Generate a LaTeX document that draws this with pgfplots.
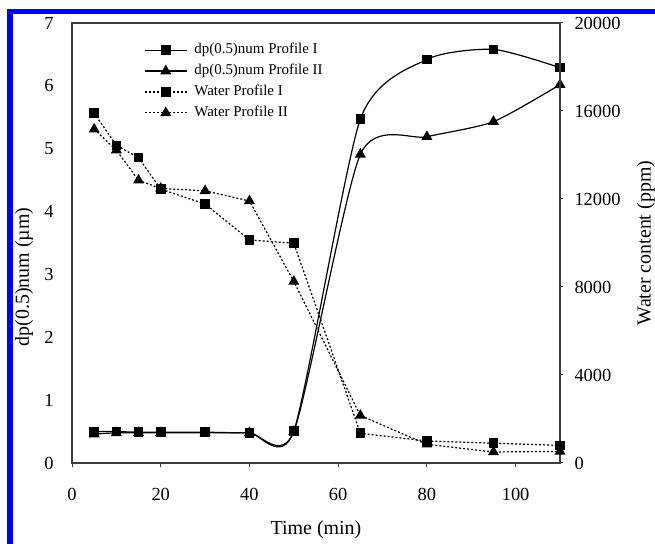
\documentclass[border=0pt]{standalone}
\usepackage{fontspec}
\setmainfont{Liberation Serif}
\usepackage{pgfplots}
\pgfplotsset{compat=1.18}
\definecolor{axgray}{RGB}{60,60,60}
\definecolor{frameblue}{RGB}{0,0,255}

\pgfplotstableread{
t dpI dpII
5 0.50 0.46
10 0.50 0.48
15 0.49 0.48
20 0.49 0.48
30 0.49 0.48
40 0.48 0.48
50 0.51 0.50
65 5.47 4.91
80 6.42 5.19
95 6.58 5.43
110 6.29 6.02
}\dpdata
\pgfplotstableread{
t wI wII
5 15900 15170
10 14440 14220
15 13880 12850
20 12450 12480
30 11770 12370
40 10140 11910
50 9990 8250
65 1350 2160
80 1000 850
95 900 500
110 800 530
}\wdata

\pgfplotsset{
  common/.style={
    at={(72bp,81bp)}, anchor=south west,
    scale only axis, width=488bp, height=440bp,
    xmin=0, xmax=110,
    axis line style={draw=axgray, line width=1.3bp},
    tick style={draw=axgray, line width=1bp},
    tick align=outside,
    scaled ticks=false,
    /pgf/number format/assume math mode=true,
    /pgf/number format/1000 sep={},
    tick label style={font=\fontsize{18.5}{20}\selectfont},
  },
  dpI/.style={black, line width=1.2bp, smooth, tension=0.4, mark=square*, mark size=4.2bp, mark options={solid}},
  dpII/.style={black, line width=1.2bp, smooth, tension=0.4, mark=triangle*, mark size=5.2bp, mark options={solid}},
  wI/.style={black, line width=1.2bp, dash pattern=on 2bp off 2bp, mark=square*, mark size=4.2bp, mark options={solid}},
  wII/.style={black, line width=1.2bp, dash pattern=on 2bp off 2bp, mark=triangle*, mark size=5.2bp, mark options={solid}},
}

\begin{document}
\begin{tikzpicture}
\useasboundingbox (0bp,0bp) rectangle (655bp,544bp);
\fill[frameblue] (7bp,0bp) rectangle (13bp,535bp);
\fill[frameblue] (7bp,529.5bp) rectangle (655bp,535bp);

\begin{axis}[common,
  ymin=0, ymax=7,
  xtick={0,20,...,100}, ytick={0,1,...,7},
  xtick pos=left, ytick pos=left,
  major tick length=4bp,
  ytick style={draw=none},
  xticklabel style={yshift=-18bp},
  yticklabel style={xshift=-11bp},
  xlabel={Time (min)},
  ylabel={dp(0.5)num (µm)},
  every axis x label/.style={at={(axis description cs:0.5,-0.152)}, anchor=center, font=\fontsize{20}{22}\selectfont},
  every axis y label/.style={at={(axis description cs:-0.098,0.423)}, anchor=center, rotate=90, font=\fontsize{20}{22}\selectfont},
]
\addplot[dpI] table[x=t, y=dpI] {\dpdata};
\addplot[dpII] table[x=t, y=dpII] {\dpdata};
\end{axis}

\begin{axis}[common,
  ymin=0, ymax=20000,
  axis x line=none, axis y line*=right,
  ytick={0,4000,...,20000},
  major tick length=3bp,
  yticklabel style={xshift=8bp},
  ylabel={Water content (ppm)},
  every axis y label/.style={at={(axis description cs:1.176,0.5)}, anchor=center, rotate=90, font=\fontsize{20}{22}\selectfont},
  legend cell align=left,
  legend image code/.code={\draw[mark repeat=2, mark phase=2, #1] plot coordinates {(0bp,0bp) (21bp,0bp) (42bp,0bp)};},
  legend style={draw=none, fill=none, inner sep=0pt,
    at={(axis description cs:0.1475,0.958)}, anchor=north west,
    font=\fontsize{15}{17}\selectfont,
    nodes={inner sep=1bp, text height=11bp, text depth=4bp},
    row sep=3.9bp,
    /tikz/every odd column/.append style={column sep=6bp}},
]
\addlegendimage{dpI, sharp plot}
\addlegendentry{dp(0.5)num Profile I}
\addlegendimage{dpII, sharp plot}
\addlegendentry{dp(0.5)num Profile II}
\addplot[wI] table[x=t, y=wI] {\wdata};
\addlegendentry{Water Profile I}
\addplot[wII] table[x=t, y=wII] {\wdata};
\addlegendentry{Water Profile II}
\end{axis}
\end{tikzpicture}
\end{document}
